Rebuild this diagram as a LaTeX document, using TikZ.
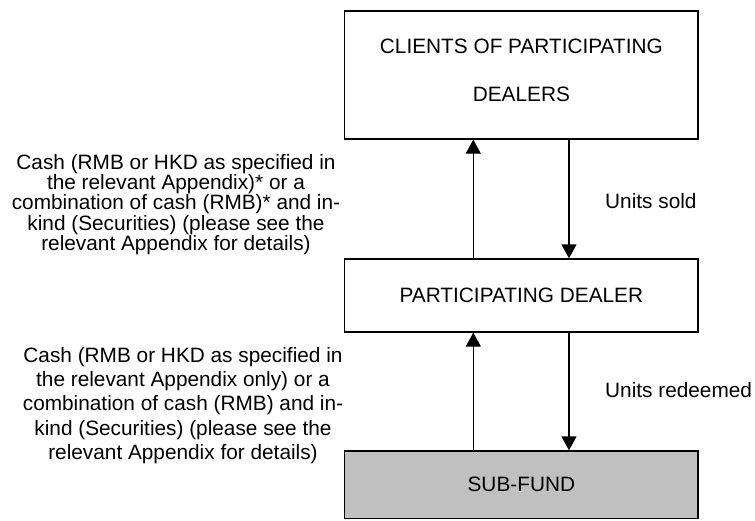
\documentclass[tikz,border=0pt]{standalone}
\usepackage{fontspec}
\setmainfont{Liberation Sans}
\usetikzlibrary{arrows.meta}
\definecolor{subgray}{RGB}{192,192,192}
\begin{document}
\begin{tikzpicture}[x=1pt,y=-1pt,
  box/.style={draw=black, line width=1.3pt, minimum width=353.3pt, inner sep=0pt,
    font=\fontsize{20.8}{24}\selectfont, align=center},
  lbl/.style={font=\fontsize{20.8}{20.35}\selectfont, align=center, inner sep=0pt},
  arr/.style={line width=1.3pt, -{Triangle[width=15pt,length=14pt]}}]
\useasboundingbox (0,0) rectangle (755,520);
\node[box, minimum height=128pt, font=\fontsize{20.8}{48}\selectfont] (clients) at (521.35,75)
  {CLIENTS OF PARTICIPATING\\DEALERS\rule[-9pt]{0pt}{0pt}};
\node[box, minimum height=73pt] (pd) at (521.35,295.5) {PARTICIPATING DEALER};
\node[box, minimum height=67.5pt, fill=subgray] (sf) at (521.35,484.75) {SUB-FUND};
\coordinate (ux) at (473.3,0);
\coordinate (dx) at (569,0);
\draw[arr] (pd.north -| ux) -- (clients.south -| ux);
\draw[arr] (clients.south -| dx) -- (pd.north -| dx);
\draw[arr] (sf.north -| ux) -- (pd.south -| ux);
\draw[arr] (pd.south -| dx) -- (sf.north -| dx);
\node[lbl, anchor=base west] (sold) at (605,208) {Units sold};
\node[lbl, anchor=base west] (redeemed) at (605,397) {Units redeemed};
\node[lbl] (cashA) at (176,204.6) {Cash (RMB or HKD as specified in\\the relevant Appendix)* or a\\combination of cash (RMB)* and in-\\kind (Securities) (please see the\\relevant Appendix for details)};
\node[lbl, font=\fontsize{20.8}{24.25}\selectfont] (cashB) at (183,405.6) {Cash (RMB or HKD as specified in\\the relevant Appendix only) or a\\combination of cash (RMB) and in-\\kind (Securities) (please see the\\relevant Appendix for details)};
\end{tikzpicture}
\end{document}
